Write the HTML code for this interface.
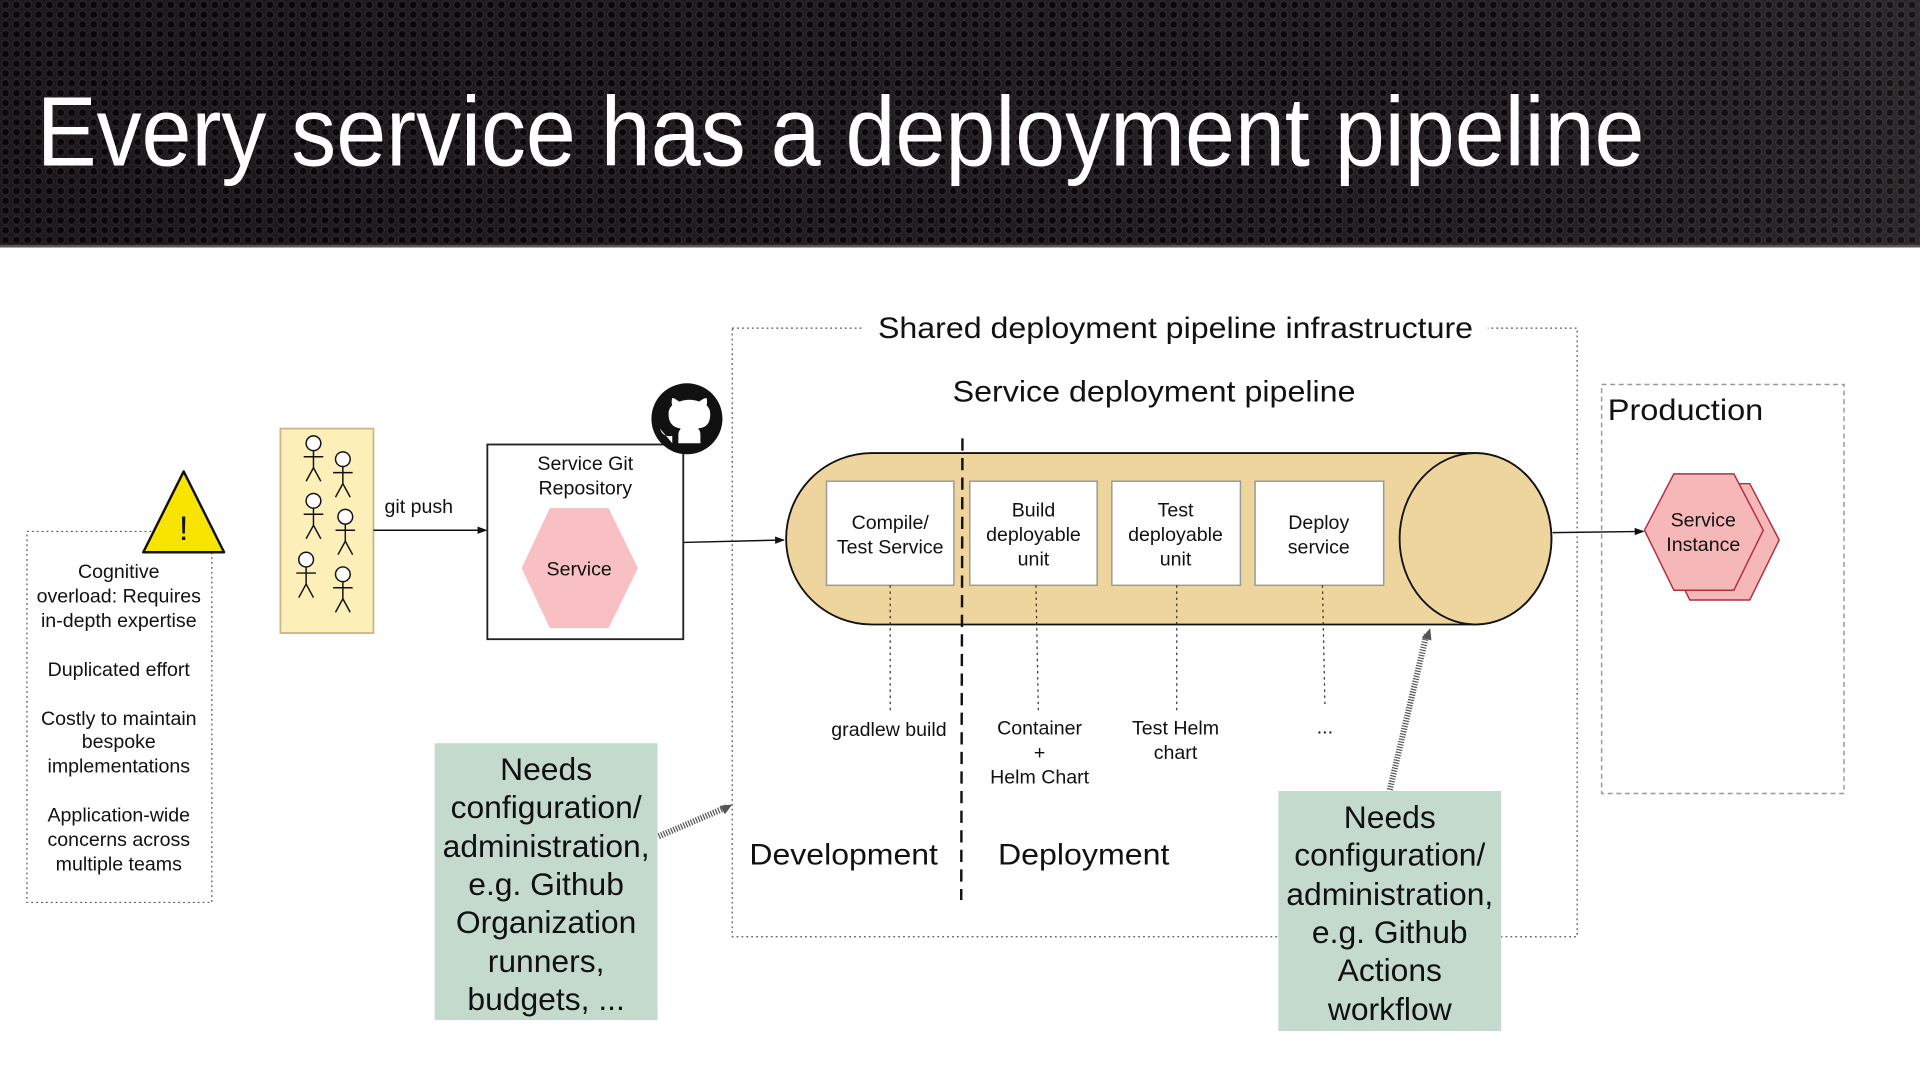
<!DOCTYPE html>
<html><head><meta charset="utf-8"><style>
html,body{margin:0;padding:0;width:1920px;height:1080px;overflow:hidden;background:#fff}
svg{display:block}
text{font-family:"Liberation Sans",Arial,sans-serif;fill:#111}
</style></head><body>
<svg width="1920" height="1080" viewBox="0 0 1568 882" preserveAspectRatio="none" xmlns="http://www.w3.org/2000/svg">
<defs>
<pattern id="dots" width="9" height="8" patternUnits="userSpaceOnUse">
<rect width="9" height="8" fill="#221d20"/>
<circle cx="4.5" cy="4" r="3.2" fill="#0c0809" stroke="#34313a" stroke-width="0.8"/>
</pattern>
<linearGradient id="shade" x1="0" x2="1" y1="0" y2="0">
<stop offset="0" stop-color="#000" stop-opacity="0.15"/>
<stop offset="0.6" stop-color="#000" stop-opacity="0"/>
<stop offset="1" stop-color="#fff" stop-opacity="0.05"/>
</linearGradient>
<marker id="arr" markerWidth="8" markerHeight="8" refX="7" refY="4" orient="auto" markerUnits="userSpaceOnUse"><path d="M0,1 L8,4 L0,7 z" fill="#111"/></marker>
</defs>
<rect x="0" y="0" width="1568" height="202" fill="url(#dots)"/>
<rect x="0" y="0" width="1568" height="202" fill="url(#shade)"/>
<rect x="0" y="200" width="1568" height="2" fill="#555"/>
<text x="30" y="135" font-size="80" style="fill:#fff" textLength="1313" lengthAdjust="spacingAndGlyphs">Every service has a deployment pipeline</text>

<!-- warning -->
<rect x="22" y="434" width="151" height="303" fill="none" stroke="#555" stroke-dasharray="1.5 2.5"/>
<polygon points="150,385 117,451 183,451" fill="#f7e400" stroke="#111" stroke-width="2" stroke-linejoin="round"/>
<text x="150" y="441" font-size="28" text-anchor="middle">!</text>
<g font-size="16" text-anchor="middle">
<text x="97" y="472">Cognitive</text>
<text x="97" y="492">overload: Requires</text>
<text x="97" y="512">in-depth expertise</text>
<text x="97" y="552">Duplicated effort</text>
<text x="97" y="592">Costly to maintain</text>
<text x="97" y="611">bespoke</text>
<text x="97" y="631">implementations</text>
<text x="97" y="671">Application-wide</text>
<text x="97" y="691">concerns across</text>
<text x="97" y="711">multiple teams</text>
</g>

<!-- actors -->
<rect x="229" y="350" width="76" height="167" fill="#fcefb8" stroke="#c9b88a" stroke-width="1.5"/>
<g stroke="#111" stroke-width="1.2" fill="none">
<g transform="translate(256,356)"><circle cx="0" cy="6" r="6" fill="#fff"/><path d="M0,12 V26 M-8,17 H8 M0,26 L-6,37 M0,26 L6,37"/></g>
<g transform="translate(280,369)"><circle cx="0" cy="6" r="6" fill="#fff"/><path d="M0,12 V26 M-8,17 H8 M0,26 L-6,37 M0,26 L6,37"/></g>
<g transform="translate(256,403)"><circle cx="0" cy="6" r="6" fill="#fff"/><path d="M0,12 V26 M-8,17 H8 M0,26 L-6,37 M0,26 L6,37"/></g>
<g transform="translate(282,416)"><circle cx="0" cy="6" r="6" fill="#fff"/><path d="M0,12 V26 M-8,17 H8 M0,26 L-6,37 M0,26 L6,37"/></g>
<g transform="translate(250,451)"><circle cx="0" cy="6" r="6" fill="#fff"/><path d="M0,12 V26 M-8,17 H8 M0,26 L-6,37 M0,26 L6,37"/></g>
<g transform="translate(280,463)"><circle cx="0" cy="6" r="6" fill="#fff"/><path d="M0,12 V26 M-8,17 H8 M0,26 L-6,37 M0,26 L6,37"/></g>
</g>
<text x="314" y="419" font-size="16">git push</text>
<line x1="305" y1="433" x2="397" y2="433" stroke="#111" stroke-width="1.2" marker-end="url(#arr)"/>

<!-- repo -->
<rect x="398" y="363" width="160" height="159" fill="#fff" stroke="#222" stroke-width="1.5"/>
<text x="478" y="384" font-size="16" text-anchor="middle">Service Git</text>
<text x="478" y="404" font-size="16" text-anchor="middle">Repository</text>
<polygon points="426,464 449,415 497,415 521,464 497,513 449,513" fill="#f8c0c2"/>
<text x="473" y="470" font-size="16" text-anchor="middle">Service</text>
<circle cx="561" cy="342" r="29" fill="#111"/>
<path d="M549,362 v-6 c-7,1 -9,-3 -10,-6 M572,362 v-7 c0,-3 -1,-4 -2,-5 c7,-1 10,-4 10,-12 c0,-3 -1,-5 -3,-7 c1,-3 0,-6 0,-6 c-2,0 -5,2 -6,3 c-5,-2 -11,-2 -16,0 c-2,-1 -4,-3 -6,-3 c0,0 -1,3 0,6 c-2,2 -3,4 -3,7 c0,8 4,11 10,12 c-1,1 -2,3 -2,5 v7 z" fill="#fff"/>
<line x1="558" y1="443" x2="640" y2="441" stroke="#111" stroke-width="1.2" marker-end="url(#arr)"/>

<!-- shared infra -->
<rect x="598" y="268" width="690" height="497" fill="none" stroke="#555" stroke-dasharray="1.5 2.5"/>
<rect x="705" y="255" width="510" height="28" fill="#fff"/>
<text x="717" y="276" font-size="24" textLength="486" lengthAdjust="spacingAndGlyphs">Shared deployment pipeline infrastructure</text>
<text x="778" y="328" font-size="24" textLength="329" lengthAdjust="spacingAndGlyphs">Service deployment pipeline</text>

<!-- cylinder -->
<path d="M712,370 H1205 A62,70 0 0 1 1205,510 H712 A70,70 0 0 1 712,370 Z" fill="#eed49d" stroke="#111" stroke-width="1.5"/>
<ellipse cx="1205" cy="440" rx="62" ry="70" fill="#eed49d" stroke="#111" stroke-width="1.5"/>
<g fill="#fff" stroke="#999" stroke-width="1.2">
<rect x="675" y="393" width="104" height="85"/>
<rect x="792" y="393" width="104" height="85"/>
<rect x="908" y="393" width="105" height="85"/>
<rect x="1025" y="393" width="105" height="85"/>
</g>
<g font-size="16" text-anchor="middle">
<text x="727" y="432">Compile/</text><text x="727" y="452">Test Service</text>
<text x="844" y="422">Build</text><text x="844" y="442">deployable</text><text x="844" y="462">unit</text>
<text x="960" y="422">Test</text><text x="960" y="442">deployable</text><text x="960" y="462">unit</text>
<text x="1077" y="432">Deploy</text><text x="1077" y="452">service</text>
</g>
<line x1="786" y1="358" x2="785" y2="735" stroke="#111" stroke-width="2" stroke-dasharray="10 6"/>
<g stroke="#333" stroke-width="1" stroke-dasharray="2 3">
<line x1="727" y1="478" x2="727" y2="580"/>
<line x1="846" y1="478" x2="848" y2="580"/>
<line x1="961" y1="478" x2="961" y2="580"/>
<line x1="1080" y1="478" x2="1082" y2="575"/>
</g>
<g font-size="16" text-anchor="middle">
<text x="726" y="601">gradlew build</text>
<text x="849" y="600">Container</text><text x="849" y="620">+</text><text x="849" y="640">Helm Chart</text>
<text x="960" y="600">Test Helm</text><text x="960" y="620">chart</text>
<text x="1082" y="599">...</text>
</g>
<text x="612" y="706" font-size="24" textLength="154" lengthAdjust="spacingAndGlyphs">Development</text>
<text x="815" y="706" font-size="24" textLength="140" lengthAdjust="spacingAndGlyphs">Deployment</text>

<!-- hatched arrows -->
<line x1="538" y1="683" x2="594" y2="659" stroke="#555" stroke-width="5" stroke-dasharray="1 1.2"/>
<line x1="1135" y1="645" x2="1165" y2="518" stroke="#555" stroke-width="5" stroke-dasharray="1 1.2"/>
<polygon points="598,657 588,658 592,665" fill="#555"/>
<polygon points="1168,513 1161,521 1169,523" fill="#555"/>

<!-- green boxes -->
<rect x="355" y="607" width="182" height="226" fill="#c4dacd"/>
<g font-size="26" text-anchor="middle">
<text x="446" y="637">Needs</text><text x="446" y="668">configuration/</text><text x="446" y="700">administration,</text>
<text x="446" y="731">e.g. Github</text><text x="446" y="762">Organization</text><text x="446" y="794">runners,</text><text x="446" y="825">budgets, ...</text>
</g>
<rect x="1044" y="646" width="182" height="196" fill="#c4dacd"/>
<g font-size="26" text-anchor="middle">
<text x="1135" y="676">Needs</text><text x="1135" y="707">configuration/</text><text x="1135" y="739">administration,</text>
<text x="1135" y="770">e.g. Github</text><text x="1135" y="801">Actions</text><text x="1135" y="833">workflow</text>
</g>

<!-- production -->
<rect x="1308" y="314" width="198" height="334" fill="none" stroke="#999" stroke-width="1.2" stroke-dasharray="4 3"/>
<text x="1313" y="343" font-size="24" textLength="127" lengthAdjust="spacingAndGlyphs">Production</text>
<line x1="1268" y1="435" x2="1342" y2="434" stroke="#111" stroke-width="1.2" marker-end="url(#arr)"/>
<polygon points="1356,441 1380,395 1429,395 1453,441 1429,490 1380,490" fill="#f6b7b9" stroke="#b03040" stroke-width="1.2"/>
<polygon points="1343,433 1367,387 1416,387 1440,433 1416,482 1367,482" fill="#f6b7b9" stroke="#b03040" stroke-width="1.2"/>
<text x="1391" y="430" font-size="16" text-anchor="middle">Service</text>
<text x="1391" y="450" font-size="16" text-anchor="middle">Instance</text>
</svg>
</body></html>
